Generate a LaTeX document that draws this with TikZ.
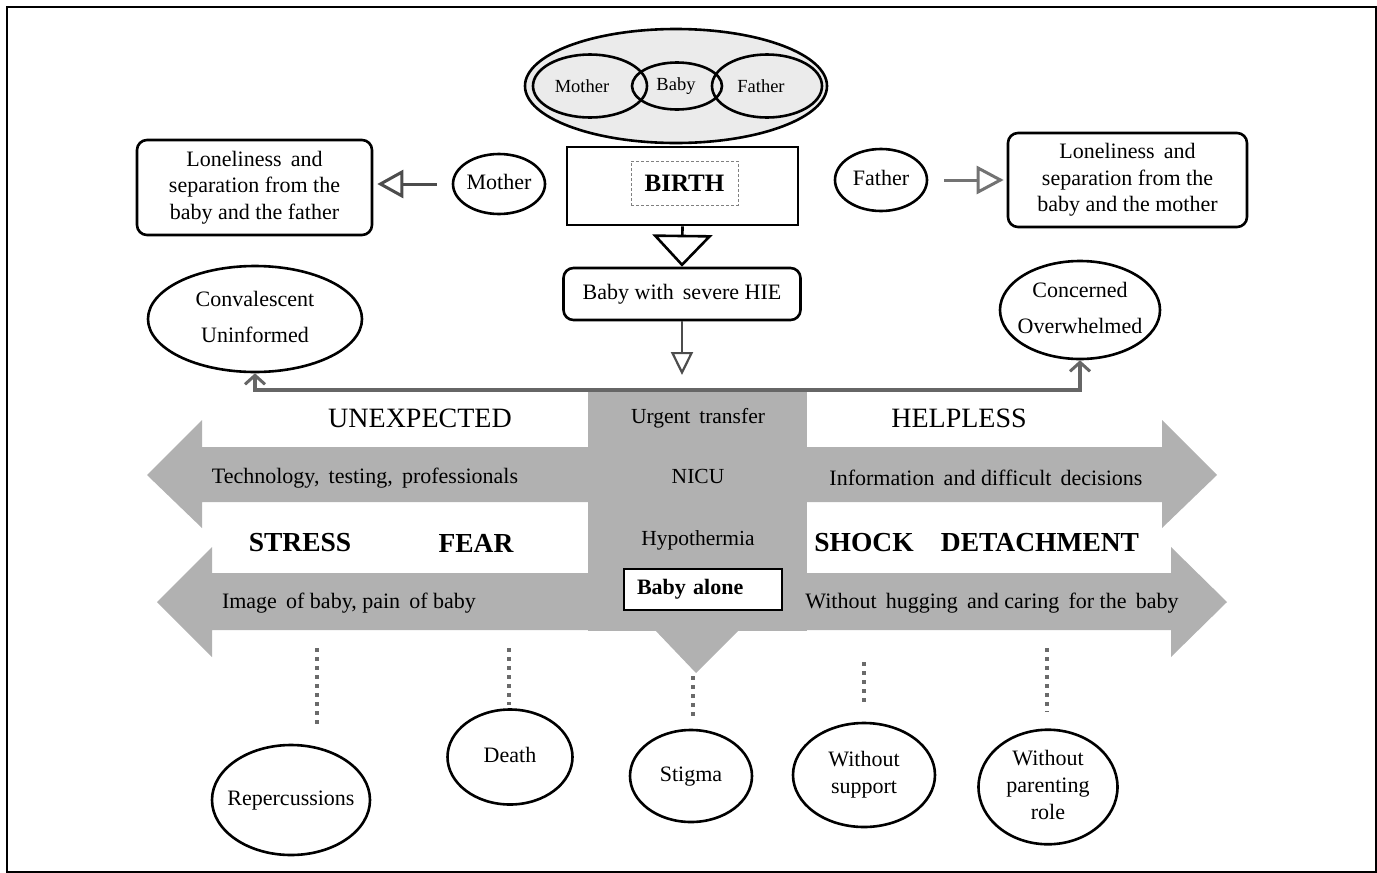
\documentclass[tikz,border=0pt]{standalone}
\usepackage{fontspec}
\setmainfont{Liberation Serif}
\usetikzlibrary{shapes.geometric,arrows.meta}
\definecolor{band}{HTML}{B1B1B1}
\definecolor{connc}{HTML}{666666}
\definecolor{ellfill}{HTML}{EBEBEB}
\definecolor{dotc}{HTML}{6A6A6A}
\newcommand{\zw}[1]{\makebox[0pt][c]{\begin{tabular}{@{}c@{}}#1\end{tabular}}}
\begin{document}
\begin{tikzpicture}[x=1pt,y=-1pt,
  ell/.style={ellipse, draw, line width=2.6pt, inner sep=0pt, fill=white},
  txt/.style={font=\fontsize{22}{27}\selectfont, inner sep=0pt},
  small/.style={font=\fontsize{18.5}{22}\selectfont, inner sep=0pt},
  bigtxt/.style={font=\fontsize{28}{32}\selectfont, inner sep=0pt},
  boldtxt/.style={font=\fontsize{27.5}{32}\selectfont\bfseries, inner sep=0pt},
  midtxt/.style={font=\fontsize{21.5}{26}\selectfont, inner sep=0pt},
  rbox/.style={draw, rounded corners=10pt, line width=2.6pt, inner sep=0pt, align=center, font=\fontsize{22}{26.5}\selectfont},
  dots/.style={dotc, line width=4pt, dash pattern=on 4pt off 5pt},
  connline/.style={connc, line width=4pt},
]
\useasboundingbox (0,0) rectangle (1377,873);
\draw[line width=2.5pt] (7,7) rectangle (1375.8,871.8);

% gray band shape
\fill[band] (147,475) -- (202,420) -- (202,447) -- (1162,447) -- (1162,420) -- (1217,475)
  -- (1162,528) -- (1162,502) -- (202,502) -- (202,528) -- cycle;
\fill[band] (157,602) -- (212,547) -- (212,573) -- (1171,573) -- (1171,547) -- (1227,602)
  -- (1171,657) -- (1171,630) -- (212,630) -- (212,657) -- cycle;
\fill[band] (588,392) rectangle (807,631);
\fill[band] (654,629) -- (696,673) -- (740,629) -- cycle;

% top family ellipse
\node[ell, fill=ellfill, minimum width=302, minimum height=114] (family) at (676,86) {};
\node[ellipse, draw, line width=2.6pt, minimum width=114, minimum height=63, inner sep=0] (imother) at (590,86) {};
\node[ellipse, draw, line width=2.6pt, minimum width=90, minimum height=47, inner sep=0] (ibaby) at (677,86) {};
\node[ellipse, draw, line width=2.6pt, minimum width=110, minimum height=63, inner sep=0] (ifather) at (767,86) {};
\node[small] (tmother) at (582,86) {Mother};
\node[small] (tbaby) at (676,86) {Baby};
\node[small] (tfather) at (761,86) {Father};

% birth
\node[draw, line width=2.6pt, minimum width=231, minimum height=78, inner sep=0] (birth) at (682.5,186) {};
\node[draw, densely dashed, line width=0.8pt, draw=gray, minimum width=107, minimum height=44, inner sep=0,
      font=\fontsize{25}{28}\selectfont\bfseries] (birthlbl) at (684.5,183) {BIRTH};
\node[rbox, minimum width=237, minimum height=52] (hie) at (682,294) {Baby with\, severe HIE};
\draw[line width=2.6pt, -{Triangle[open, length=32pt, width=60pt, line width=2.6pt]}] (birth.south) -- (hie.north);
\coordinate (hietip) at (682,375);
\draw[line width=2.2pt, color=black!70, -{Triangle[open, length=23pt, width=22pt, line width=2.2pt]}] (hie.south) -- (hietip);

% mother / father side
\node[ell, minimum width=92, minimum height=60, txt] (mom) at (499,184) {\zw{Mother}};
\node[rbox, minimum width=235, minimum height=95] (lbox) at (254.5,187.5) {Loneliness\, and\\separation from the\\baby and the father};
\draw[line width=3pt, color=black!70, shorten <=15pt, shorten >=4pt,
  -{Triangle[open, length=26pt, width=28pt, line width=3pt]}] (mom.west) -- (lbox.east |- mom.west);
\node[ell, minimum width=92, minimum height=62, txt] (dad) at (881,180) {\zw{Father}};
\node[rbox, minimum width=239, minimum height=94] (rbox) at (1127.5,180) {Loneliness\, and\\separation from the\\baby and the mother};
\draw[line width=3pt, color=black!55, shorten <=16pt, shorten >=3pt,
  -{Triangle[open, length=27pt, width=28pt, line width=3pt]}] (dad.east) -- (rbox.west |- dad.east);

% convalescent / concerned
\node[ell, minimum width=214, minimum height=106, txt] (conv) at (255,319) {\zw{Convalescent\\[9pt]Uninformed}};
\node[ell, minimum width=160, minimum height=98, txt] (conc) at (1080,310) {\zw{Concerned\\[9pt]Overwhelmed}};
\draw[connline, {Straight Barb[length=9pt, width=20pt, line width=3pt]}-{Straight Barb[length=9pt, width=20pt, line width=3pt]}]
  (conv.south) -- (conv.south |- 0,390) -- (conc.south |- 0,390) -- (conc.south);

% band texts
\node[bigtxt] (unexp) at (420,418) {UNEXPECTED};
\node[bigtxt] (helpl) at (959,418) {HELPLESS};
\node[txt] (tech) at (365,478) {Technology,\, testing,\, professionals};
\node[txt] (info) at (986,478) {Information\, and difficult\, decisions};
\node[boldtxt] (stress) at (300,543) {STRESS};
\node[boldtxt] (fear) at (476,543) {FEAR};
\node[boldtxt] (shock) at (864,543) {SHOCK};
\node[boldtxt] (detach) at (1040,543) {DETACHMENT};
\node[txt] (image) at (349,603) {Image\, of baby, pain\, of baby};
\node[txt] (without) at (992,603) {Without\, hugging\, and caring\, for the\, baby};
\node[midtxt] (urgent) at (698,418) {Urgent\, transfer};
\node[midtxt] (nicu) at (698,476) {NICU};
\node[midtxt] (hypo) at (698,540) {Hypothermia};
\node[draw, fill=white, line width=2.6pt, minimum width=158, minimum height=41, text width=132pt, inner xsep=13pt, inner ysep=0pt,
      align=left, font=\fontsize{22}{26}\selectfont\bfseries] (alone) at (703,589.5) {Baby alone};

% bottom ellipses
\node[ell, minimum width=158, minimum height=110, txt] (rep) at (291,800) {\zw{Repercussions}};
\node[ell, minimum width=125, minimum height=95, txt] (death) at (510,757) {\zw{Death}};
\node[ell, minimum width=122, minimum height=92, txt] (stig) at (691,776) {\zw{Stigma}};
\node[ell, minimum width=142, minimum height=104, txt] (wsup) at (864,775) {\zw{Without\\support}};
\node[ell, minimum width=139, minimum height=105, txt] (wpar) at (1048,787) {\zw{Without\\parenting\\role}};

\coordinate (d1) at (317,648);
\coordinate (d2) at (509,648);
\coordinate (d3) at (693,676);
\coordinate (d4) at (864,662);
\coordinate (d5) at (1047,648);
\draw[dots, shorten >=16pt] (d1) -- (rep.north -| d1);
\draw[dots, shorten >=3pt] (d2) -- (death.north -| d2);
\draw[dots, shorten >=9pt] (d3) -- (stig.north -| d3);
\draw[dots, shorten >=15pt] (d4) -- (wsup.north -| d4);
\draw[dots, shorten >=16pt] (d5) -- (wpar.north -| d5);
\end{tikzpicture}
\end{document}
